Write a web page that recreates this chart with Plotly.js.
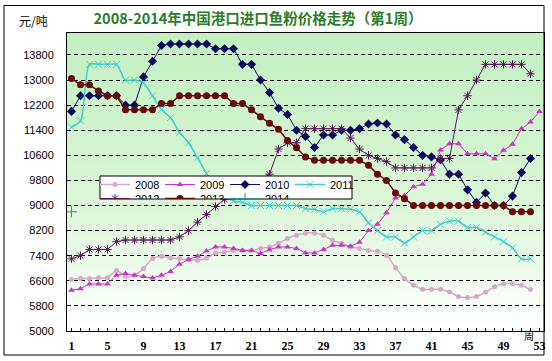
<!DOCTYPE html>
<html>
<head>
<meta charset="utf-8">
<script src="https://cdn.plot.ly/plotly-3.0.1.min.js"></script>
<style>
html,body{margin:0;padding:0;background:#fff;}
#chart{width:552px;height:361px;}
.scrollbar{display:none !important;}
g.legend2{clip-path: inset(0px 0px calc(100% - 15px) 0px);}
</style>
</head>
<body>
<div id="chart"></div>
<script>
// ---- data ----
const weeks = [1,2,3,4,5,6,7,8,9,10,11,12,13,14,15,16,17,18,19,20,21,22,23,24,25,26,27,28,29,30,31,32,33,34,35,36,37,38,39,40,41,42,43,44,45,46,47,48,49,50,51,52,53];
const xLabelWeeks = [1,5,9,13,17,21,25,29,33,37,41,45,49,53];
const xLabelText = ['1','5','9','13','17','21','25','29','33','37','41','45','49','53'];

const y2008 = [6640,6670,6670,6700,6700,6930,6740,6780,6990,7310,
               7380,7330,7300,7270,7250,7320,7480,7510,7570,7570,
               7570,7630,7680,7800,7950,8050,8120,8120,8050,7890,
               7800,7680,7630,7570,7540,7410,7020,6670,6460,6330,
               6330,6330,6240,6100,6070,6100,6240,6410,6510,6510,6460,6320];
const y2009 = [6300,6350,6500,6500,6500,6780,6830,6780,6740,6690,
               6780,6900,7130,7280,7380,7550,7680,7680,7630,7570,
               7570,7470,7590,7680,7680,7630,7490,7490,7600,7730,
               7730,7700,7830,8200,8400,8770,9240,9320,9600,9680,
               10000,10770,10970,10970,10650,10650,10650,10490,10760,10950,11450,11660,12000];
const y2010 = [12000,12500,12500,12500,12500,12500,12200,12200,13100,13600,
               14100,14150,14150,14150,14150,14150,14000,14000,14000,13500,
               13500,13000,12600,12100,11900,11400,11200,10850,11250,11250,
               11400,11400,11450,11600,11630,11600,11250,11100,10850,10600,
               10550,10450,10000,10000,9500,9100,9400,9000,9000,9300,10050,10500];
const y2011 = [11500,11700,13500,13500,13500,13500,13000,13000,12900,12500,
               12060,11800,11330,11000,10520,10020,9600,9300,9150,9100,
               9000,9000,9000,9000,9000,9000,8900,8880,8800,8900,
               8900,8880,8800,8450,8200,8000,8000,7800,8000,8200,
               8200,8400,8500,8500,8300,8300,8150,8000,7850,7650,7300,7300];
const y2012 = [7300,7400,7600,7600,7600,7850,7900,7900,7900,7900,
               7900,7900,8000,8200,8470,8710,8970,9200,9350,9500,
               9650,9800,10000,10800,11000,11000,11450,11450,11450,11450,
               11450,11150,10800,10600,10500,10400,10200,10200,10200,10200,
               10200,10500,10500,12050,12500,13000,13500,13500,13500,13500,13500,13200];
const y2013 = [13050,12850,12850,12650,12500,12500,12050,12050,12050,12050,
               12250,12250,12500,12500,12500,12500,12500,12500,12250,12250,
               12050,11830,11620,11430,11070,10840,10550,10440,10440,10440,
               10440,10440,10440,10280,10000,9800,9400,9220,9000,9000,
               9000,9000,9000,9000,9000,9000,9000,9000,9000,8800,8800,8800];
const y2014 = [8800];

const yTickStart = 5000, yTickStep = 800;

// ---- traces ----
function tr(name, ys, color, marker, extra) {
  return Object.assign({
    type: 'scatter', mode: 'lines+markers', name: name,
    x: weeks.slice(0, ys.length), y: ys,
    line: {color: color, width: 1},
    marker: Object.assign({color: color}, marker),
    hoverinfo: 'skip'
  }, extra || {});
}
const traces = [
  tr('2008', y2008, '#d6a9cc', {symbol:'circle', size:5}, {line:{color:'#d6a9cc', width:1.5, shape:'spline', smoothing:0.8}, legend:'legend'}),
  tr('2009', y2009, '#cc33cc', {symbol:'triangle-up', size:6}, {legend:'legend'}),
  tr('2010', y2010, '#0a0a5e', {symbol:'diamond', size:7}, {legend:'legend'}),
  tr('2011', y2011, '#40cccc', {symbol:'x-thin-open', size:7, line:{color:'#40cccc', width:1}}, {line:{color:'#40cccc', width:1.5, shape:'spline', smoothing:0.8}, legend:'legend'}),
  tr('2012', y2012, '#5c1a5c', {symbol:'asterisk-open', size:7, line:{color:'#5c1a5c', width:1}}, {legend:'legend2'}),
  tr('2013', y2013, '#660a0a', {symbol:'circle', size:7}, {line:{color:'#660a0a', width:1.5}, legend:'legend2'}),
  tr('2014', y2014, '#2f8f8f', {symbol:'cross-thin-open', size:8, line:{color:'#2f8f8f', width:1}}, {legend:'legend2'})
];

// ---- background gradient ----
const bgSvg = "<svg xmlns='http://www.w3.org/2000/svg' width='10' height='100' viewBox='0 0 10 100' preserveAspectRatio='none'><defs><linearGradient id='g' x1='0' y1='0' x2='0' y2='1'><stop offset='0' stop-color='#c2f0c0'/><stop offset='0.55' stop-color='#daf6d6'/><stop offset='1' stop-color='#ffffff'/></linearGradient></defs><rect width='10' height='100' fill='url(#g)'/></svg>";
const bgSrc = 'data:image/svg+xml;charset=utf-8,' + encodeURIComponent(bgSvg);

const W = 552, H = 361, L = 67, R = 8, T = 33, B = 30;
const pw = W - L - R, ph = H - T - B;
const px2x = p => (p - L) / pw;
const py2y = p => (H - B - p) / ph;

const legendCommon = {
  orientation: 'h', xanchor: 'left', yanchor: 'top',
  bgcolor: 'rgba(0,0,0,0)', borderwidth: 0,
  font: {family: 'Liberation Sans, Arial, sans-serif', size: 11, color: '#000'},
  entrywidth: 20, entrywidthmode: 'pixels', itemclick: false, itemdoubleclick: false
};

const layout = {
  width: W, height: H,
  margin: {l: L, r: R, t: T, b: B, pad: 0},
  paper_bgcolor: '#ffffff', plot_bgcolor: 'rgba(0,0,0,0)',
  title: {
    text: '2008-2014年中国港口进口鱼粉价格走势（第1周）',
    font: {family: 'Noto Sans CJK SC, sans-serif', size: 14.5, color: '#2a7d2a', weight: 'bold'},
    x: 258 / W, xanchor: 'center', y: 1 - 19 / H, yanchor: 'middle'
  },
  xaxis: {
    range: [0.5, 53.5], tickmode: 'array', tickvals: xLabelWeeks, ticktext: xLabelText,
    ticks: 'inside', ticklen: 3, tickcolor: '#000',
    minor: {tickmode: 'linear', tick0: 1, dtick: 1, ticks: 'inside', ticklen: 3, tickcolor: '#000', showgrid: false},
    showline: true, linecolor: '#000', linewidth: 1, mirror: true,
    showgrid: false, zeroline: false, ticklabelstandoff: 4,
    tickfont: {family: 'Liberation Serif, Times New Roman, serif', size: 12, color: '#000', weight: 'bold'}
  },
  yaxis: {
    range: [5000, 14500], tick0: yTickStart, dtick: yTickStep, tickmode: 'linear', tickformat: 'd',
    showline: true, linecolor: '#000', linewidth: 1, mirror: true,
    showgrid: true, gridcolor: '#000', gridwidth: 1, griddash: '4px,3px',
    zeroline: false, ticks: '', ticklabelstandoff: 10,
    tickfont: {family: 'Liberation Sans, Arial, sans-serif', size: 11, color: '#000'}
  },
  images: [{source: bgSrc, xref: 'paper', yref: 'paper', x: 0, y: 1, sizex: 1, sizey: 1,
            xanchor: 'left', yanchor: 'top', sizing: 'stretch', layer: 'below'}],
  shapes: [
    {type: 'rect', xref: 'paper', yref: 'paper', x0: px2x(100), x1: px2x(352), y0: py2y(199), y1: py2y(176),
     fillcolor: '#ffffff', line: {color: '#000', width: 1}, layer: 'above'},
    {type: 'rect', xref: 'paper', yref: 'paper', x0: px2x(4), x1: px2x(544), y0: py2y(355), y1: py2y(5.5),
     fillcolor: 'rgba(0,0,0,0)', line: {color: '#000', width: 1}, layer: 'above'}
  ],
  legend: Object.assign({}, legendCommon, {x: px2x(95), y: py2y(170)}),
  legend2: Object.assign({}, legendCommon, {x: px2x(95), y: py2y(184)}),
  annotations: [
    {text: '元/吨', xref: 'paper', yref: 'paper', x: px2x(33), y: py2y(20), showarrow: false,
     xanchor: 'center', yanchor: 'middle', font: {family: 'Noto Sans CJK SC, sans-serif', size: 12, color: '#000'}},
    {text: '周', xref: 'paper', yref: 'paper', x: px2x(529), y: py2y(335), showarrow: false,
     xanchor: 'center', yanchor: 'middle', font: {family: 'Noto Sans CJK SC, sans-serif', size: 10, color: '#000'}}
  ],
  showlegend: true
};

Plotly.newPlot('chart', traces, layout, {displayModeBar: false, staticPlot: true});
</script>
</body>
</html>
